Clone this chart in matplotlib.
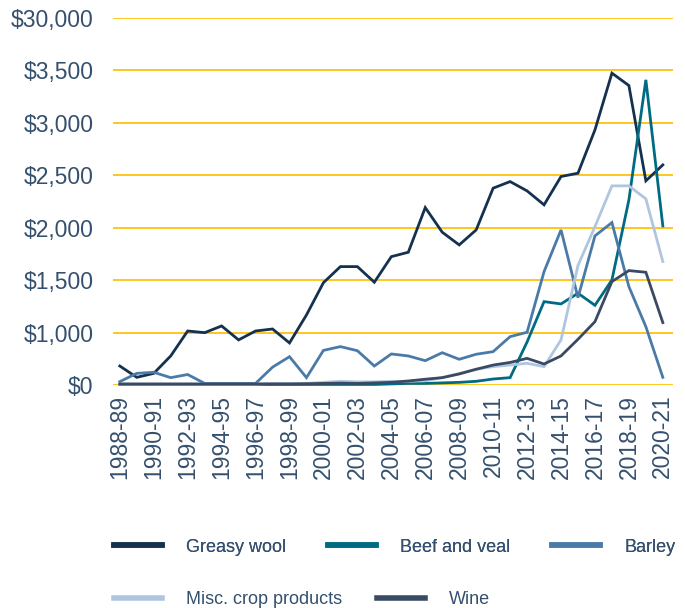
import numpy as np
import matplotlib
matplotlib.use("Agg")
import matplotlib.pyplot as plt

years = ["1988-89", "1989-90", "1990-91", "1991-92", "1992-93", "1993-94", "1994-95",
         "1995-96", "1996-97", "1997-98", "1998-99", "1999-00", "2000-01", "2001-02",
         "2002-03", "2003-04", "2004-05", "2005-06", "2006-07", "2007-08", "2008-09",
         "2009-10", "2010-11", "2011-12", "2012-13", "2013-14", "2014-15", "2015-16",
         "2016-17", "2017-18", "2018-19", "2019-20", "2020-21"]

greasy_wool = [181, 73, 111, 277, 515, 499, 563, 430, 515, 534, 401, 668, 976, 1129,
               1129, 980, 1224, 1266, 1692, 1457, 1336, 1479, 1877, 1940, 1851, 1718,
               1988, 2020, 2433, 2974, 2856, 1947, 2099]
beef_veal = [5, 5, 5, 5, 5, 5, 5, 5, 5, 5, 5, 5, 5, 5, 5, 5, 10, 15, 15, 20, 25, 35,
             57, 70, 410, 795, 773, 875, 760, 1002, 1765, 2910, 1517]
barley = [32, 111, 121, 70, 100, 15, 15, 15, 15, 170, 270, 70, 330, 366, 327, 181,
          296, 277, 232, 308, 245, 293, 318, 461, 503, 1081, 1479, 833, 1422, 1549,
          938, 556, 73]
misc_crop = [8, 8, 8, 8, 8, 8, 8, 8, 8, 15, 15, 15, 25, 35, 30, 30, 35, 35, 40, 70,
             110, 150, 175, 190, 207, 175, 430, 1140, 1510, 1899, 1899, 1775, 1177]
wine = [10, 10, 10, 10, 10, 10, 10, 10, 10, 10, 10, 12, 15, 18, 15, 20, 25, 38, 55,
        70, 105, 150, 190, 215, 254, 200, 277, 436, 604, 986, 1091, 1075, 595]

ytick_vals = [0, 500, 1000, 1500, 2000, 2500, 3000, 3500]
ytick_labels = ["$0", "$1,000", "$1,500", "$2,000", "$2,500", "$3,000", "$3,500", "$30,000"]

series = [
    ("Greasy wool", greasy_wool, "#14324f"),
    ("Beef and veal", beef_veal, "#006b82"),
    ("Barley", barley, "#4a7ba8"),
    ("Misc. crop products", misc_crop, "#b0c6df"),
    ("Wine", wine, "#3b4a63"),
]

txt_color = "#34506e"
plt.rcParams['font.family'] = ['Liberation Sans', 'DejaVu Sans']

fig = plt.figure(figsize=(6.85, 6.08), dpi=100)
ax = fig.add_axes([0.165, 0.3668, 0.8175, 0.6036])

x = np.arange(len(years))
handles = []
for name, vals, col in series:
    h, = ax.plot(x, vals, color=col, lw=2.0, label=name, clip_on=False,
                 solid_joinstyle='miter')
    handles.append(h)

ax.set_xlim(-0.4, 32.6)
ax.set_ylim(0, 3500)
ax.set_yticks(ytick_vals)
ax.set_yticklabels(ytick_labels)
ax.set_xticks(x[::2])
ax.set_xticklabels(years[::2], rotation=90)
ax.grid(axis='y', color='#ffc20e', lw=1.3)
ax.set_axisbelow(True)
for s in ax.spines.values():
    s.set_visible(False)
ax.tick_params(axis='both', length=0, colors=txt_color, labelsize=16.5)
ax.tick_params(axis='y', pad=14)
ax.tick_params(axis='x', pad=7)

# legend in two rows, laid out like the original
leg_kw = dict(loc='center left', frameon=False, fontsize=13, handlelength=2.65,
              handletextpad=1.35, labelcolor=txt_color, borderaxespad=0)
leg1 = fig.legend(handles[:3], [s[0] for s in series[:3]], ncol=3,
                  bbox_to_anchor=(0.156, 0.1), columnspacing=2.3, **leg_kw)
for lh in leg1.get_lines():
    lh.set_linewidth(4)
fig.add_artist(leg1)
leg2 = fig.legend(handles[3:], [s[0] for s in series[3:]], ncol=2,
                  bbox_to_anchor=(0.156, 0.014), columnspacing=1.9, **leg_kw)
for lh in leg2.get_lines():
    lh.set_linewidth(4)

fig.savefig("out.png", dpi=100)
